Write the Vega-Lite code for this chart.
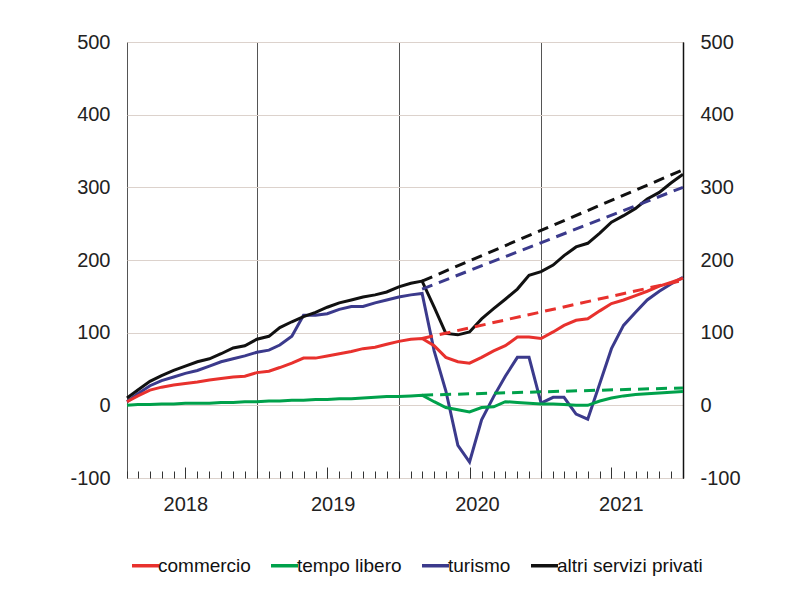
{
"$schema":"https://vega.github.io/schema/vega-lite/v6.json",
"width":556,"height":436,
"autosize":{"type":"none"},
"padding":{"left":127,"top":42,"right":104,"bottom":120},
"background":"white",
"config":{"font":"Liberation Sans","view":{"stroke":"#555","strokeWidth":1},"axis":{"labelFont":"Liberation Sans","labelFontSize":20,"labelColor":"#222","title":null}},
"data":{"values":[
{"data":"2018-02-01","serie":"turismo","valore":5,"tipo":"effettivo"},
{"data":"2018-03-01","serie":"turismo","valore":16,"tipo":"effettivo"},
{"data":"2018-04-01","serie":"turismo","valore":27,"tipo":"effettivo"},
{"data":"2018-05-01","serie":"turismo","valore":34,"tipo":"effettivo"},
{"data":"2018-06-01","serie":"turismo","valore":39,"tipo":"effettivo"},
{"data":"2018-07-01","serie":"turismo","valore":44,"tipo":"effettivo"},
{"data":"2018-08-01","serie":"turismo","valore":48,"tipo":"effettivo"},
{"data":"2018-09-01","serie":"turismo","valore":54,"tipo":"effettivo"},
{"data":"2018-10-01","serie":"turismo","valore":60,"tipo":"effettivo"},
{"data":"2018-11-01","serie":"turismo","valore":64,"tipo":"effettivo"},
{"data":"2018-12-01","serie":"turismo","valore":68,"tipo":"effettivo"},
{"data":"2019-01-01","serie":"turismo","valore":73,"tipo":"effettivo"},
{"data":"2019-02-01","serie":"turismo","valore":76,"tipo":"effettivo"},
{"data":"2019-03-01","serie":"turismo","valore":83,"tipo":"effettivo"},
{"data":"2019-04-01","serie":"turismo","valore":95,"tipo":"effettivo"},
{"data":"2019-05-01","serie":"turismo","valore":124,"tipo":"effettivo"},
{"data":"2019-06-01","serie":"turismo","valore":124,"tipo":"effettivo"},
{"data":"2019-07-01","serie":"turismo","valore":126,"tipo":"effettivo"},
{"data":"2019-08-01","serie":"turismo","valore":132,"tipo":"effettivo"},
{"data":"2019-09-01","serie":"turismo","valore":136,"tipo":"effettivo"},
{"data":"2019-10-01","serie":"turismo","valore":136,"tipo":"effettivo"},
{"data":"2019-11-01","serie":"turismo","valore":141,"tipo":"effettivo"},
{"data":"2019-12-01","serie":"turismo","valore":145,"tipo":"effettivo"},
{"data":"2020-01-01","serie":"turismo","valore":149,"tipo":"effettivo"},
{"data":"2020-02-01","serie":"turismo","valore":152,"tipo":"effettivo"},
{"data":"2020-03-01","serie":"turismo","valore":154,"tipo":"effettivo"},
{"data":"2020-04-01","serie":"turismo","valore":75,"tipo":"effettivo"},
{"data":"2020-05-01","serie":"turismo","valore":20,"tipo":"effettivo"},
{"data":"2020-06-01","serie":"turismo","valore":-55,"tipo":"effettivo"},
{"data":"2020-07-01","serie":"turismo","valore":-78,"tipo":"effettivo"},
{"data":"2020-08-01","serie":"turismo","valore":-20,"tipo":"effettivo"},
{"data":"2020-09-01","serie":"turismo","valore":12,"tipo":"effettivo"},
{"data":"2020-10-01","serie":"turismo","valore":40,"tipo":"effettivo"},
{"data":"2020-11-01","serie":"turismo","valore":66,"tipo":"effettivo"},
{"data":"2020-12-01","serie":"turismo","valore":66,"tipo":"effettivo"},
{"data":"2021-01-01","serie":"turismo","valore":3,"tipo":"effettivo"},
{"data":"2021-02-01","serie":"turismo","valore":11,"tipo":"effettivo"},
{"data":"2021-03-01","serie":"turismo","valore":11,"tipo":"effettivo"},
{"data":"2021-04-01","serie":"turismo","valore":-12,"tipo":"effettivo"},
{"data":"2021-05-01","serie":"turismo","valore":-19,"tipo":"effettivo"},
{"data":"2021-06-01","serie":"turismo","valore":30,"tipo":"effettivo"},
{"data":"2021-07-01","serie":"turismo","valore":78,"tipo":"effettivo"},
{"data":"2021-08-01","serie":"turismo","valore":110,"tipo":"effettivo"},
{"data":"2021-09-01","serie":"turismo","valore":128,"tipo":"effettivo"},
{"data":"2021-10-01","serie":"turismo","valore":145,"tipo":"effettivo"},
{"data":"2021-11-01","serie":"turismo","valore":157,"tipo":"effettivo"},
{"data":"2021-12-01","serie":"turismo","valore":167,"tipo":"effettivo"},
{"data":"2022-01-01","serie":"turismo","valore":176,"tipo":"effettivo"},
{"data":"2018-02-01","serie":"tempo libero","valore":0,"tipo":"effettivo"},
{"data":"2018-03-01","serie":"tempo libero","valore":1,"tipo":"effettivo"},
{"data":"2018-04-01","serie":"tempo libero","valore":1,"tipo":"effettivo"},
{"data":"2018-05-01","serie":"tempo libero","valore":2,"tipo":"effettivo"},
{"data":"2018-06-01","serie":"tempo libero","valore":2,"tipo":"effettivo"},
{"data":"2018-07-01","serie":"tempo libero","valore":3,"tipo":"effettivo"},
{"data":"2018-08-01","serie":"tempo libero","valore":3,"tipo":"effettivo"},
{"data":"2018-09-01","serie":"tempo libero","valore":3,"tipo":"effettivo"},
{"data":"2018-10-01","serie":"tempo libero","valore":4,"tipo":"effettivo"},
{"data":"2018-11-01","serie":"tempo libero","valore":4,"tipo":"effettivo"},
{"data":"2018-12-01","serie":"tempo libero","valore":5,"tipo":"effettivo"},
{"data":"2019-01-01","serie":"tempo libero","valore":5,"tipo":"effettivo"},
{"data":"2019-02-01","serie":"tempo libero","valore":6,"tipo":"effettivo"},
{"data":"2019-03-01","serie":"tempo libero","valore":6,"tipo":"effettivo"},
{"data":"2019-04-01","serie":"tempo libero","valore":7,"tipo":"effettivo"},
{"data":"2019-05-01","serie":"tempo libero","valore":7,"tipo":"effettivo"},
{"data":"2019-06-01","serie":"tempo libero","valore":8,"tipo":"effettivo"},
{"data":"2019-07-01","serie":"tempo libero","valore":8,"tipo":"effettivo"},
{"data":"2019-08-01","serie":"tempo libero","valore":9,"tipo":"effettivo"},
{"data":"2019-09-01","serie":"tempo libero","valore":9,"tipo":"effettivo"},
{"data":"2019-10-01","serie":"tempo libero","valore":10,"tipo":"effettivo"},
{"data":"2019-11-01","serie":"tempo libero","valore":11,"tipo":"effettivo"},
{"data":"2019-12-01","serie":"tempo libero","valore":12,"tipo":"effettivo"},
{"data":"2020-01-01","serie":"tempo libero","valore":12,"tipo":"effettivo"},
{"data":"2020-02-01","serie":"tempo libero","valore":13,"tipo":"effettivo"},
{"data":"2020-03-01","serie":"tempo libero","valore":14,"tipo":"effettivo"},
{"data":"2020-04-01","serie":"tempo libero","valore":5,"tipo":"effettivo"},
{"data":"2020-05-01","serie":"tempo libero","valore":-3,"tipo":"effettivo"},
{"data":"2020-06-01","serie":"tempo libero","valore":-6,"tipo":"effettivo"},
{"data":"2020-07-01","serie":"tempo libero","valore":-9,"tipo":"effettivo"},
{"data":"2020-08-01","serie":"tempo libero","valore":-3,"tipo":"effettivo"},
{"data":"2020-09-01","serie":"tempo libero","valore":-2,"tipo":"effettivo"},
{"data":"2020-10-01","serie":"tempo libero","valore":5,"tipo":"effettivo"},
{"data":"2020-11-01","serie":"tempo libero","valore":4,"tipo":"effettivo"},
{"data":"2020-12-01","serie":"tempo libero","valore":3,"tipo":"effettivo"},
{"data":"2021-01-01","serie":"tempo libero","valore":2,"tipo":"effettivo"},
{"data":"2021-02-01","serie":"tempo libero","valore":2,"tipo":"effettivo"},
{"data":"2021-03-01","serie":"tempo libero","valore":1,"tipo":"effettivo"},
{"data":"2021-04-01","serie":"tempo libero","valore":0,"tipo":"effettivo"},
{"data":"2021-05-01","serie":"tempo libero","valore":0,"tipo":"effettivo"},
{"data":"2021-06-01","serie":"tempo libero","valore":6,"tipo":"effettivo"},
{"data":"2021-07-01","serie":"tempo libero","valore":10,"tipo":"effettivo"},
{"data":"2021-08-01","serie":"tempo libero","valore":13,"tipo":"effettivo"},
{"data":"2021-09-01","serie":"tempo libero","valore":15,"tipo":"effettivo"},
{"data":"2021-10-01","serie":"tempo libero","valore":16,"tipo":"effettivo"},
{"data":"2021-11-01","serie":"tempo libero","valore":17,"tipo":"effettivo"},
{"data":"2021-12-01","serie":"tempo libero","valore":18,"tipo":"effettivo"},
{"data":"2022-01-01","serie":"tempo libero","valore":19,"tipo":"effettivo"},
{"data":"2018-02-01","serie":"commercio","valore":5,"tipo":"effettivo"},
{"data":"2018-03-01","serie":"commercio","valore":13,"tipo":"effettivo"},
{"data":"2018-04-01","serie":"commercio","valore":21,"tipo":"effettivo"},
{"data":"2018-05-01","serie":"commercio","valore":25,"tipo":"effettivo"},
{"data":"2018-06-01","serie":"commercio","valore":28,"tipo":"effettivo"},
{"data":"2018-07-01","serie":"commercio","valore":30,"tipo":"effettivo"},
{"data":"2018-08-01","serie":"commercio","valore":32,"tipo":"effettivo"},
{"data":"2018-09-01","serie":"commercio","valore":35,"tipo":"effettivo"},
{"data":"2018-10-01","serie":"commercio","valore":37,"tipo":"effettivo"},
{"data":"2018-11-01","serie":"commercio","valore":39,"tipo":"effettivo"},
{"data":"2018-12-01","serie":"commercio","valore":40,"tipo":"effettivo"},
{"data":"2019-01-01","serie":"commercio","valore":45,"tipo":"effettivo"},
{"data":"2019-02-01","serie":"commercio","valore":47,"tipo":"effettivo"},
{"data":"2019-03-01","serie":"commercio","valore":52,"tipo":"effettivo"},
{"data":"2019-04-01","serie":"commercio","valore":58,"tipo":"effettivo"},
{"data":"2019-05-01","serie":"commercio","valore":65,"tipo":"effettivo"},
{"data":"2019-06-01","serie":"commercio","valore":65,"tipo":"effettivo"},
{"data":"2019-07-01","serie":"commercio","valore":68,"tipo":"effettivo"},
{"data":"2019-08-01","serie":"commercio","valore":71,"tipo":"effettivo"},
{"data":"2019-09-01","serie":"commercio","valore":74,"tipo":"effettivo"},
{"data":"2019-10-01","serie":"commercio","valore":78,"tipo":"effettivo"},
{"data":"2019-11-01","serie":"commercio","valore":80,"tipo":"effettivo"},
{"data":"2019-12-01","serie":"commercio","valore":84,"tipo":"effettivo"},
{"data":"2020-01-01","serie":"commercio","valore":88,"tipo":"effettivo"},
{"data":"2020-02-01","serie":"commercio","valore":91,"tipo":"effettivo"},
{"data":"2020-03-01","serie":"commercio","valore":92,"tipo":"effettivo"},
{"data":"2020-04-01","serie":"commercio","valore":82,"tipo":"effettivo"},
{"data":"2020-05-01","serie":"commercio","valore":66,"tipo":"effettivo"},
{"data":"2020-06-01","serie":"commercio","valore":60,"tipo":"effettivo"},
{"data":"2020-07-01","serie":"commercio","valore":58,"tipo":"effettivo"},
{"data":"2020-08-01","serie":"commercio","valore":66,"tipo":"effettivo"},
{"data":"2020-09-01","serie":"commercio","valore":75,"tipo":"effettivo"},
{"data":"2020-10-01","serie":"commercio","valore":82,"tipo":"effettivo"},
{"data":"2020-11-01","serie":"commercio","valore":94,"tipo":"effettivo"},
{"data":"2020-12-01","serie":"commercio","valore":94,"tipo":"effettivo"},
{"data":"2021-01-01","serie":"commercio","valore":92,"tipo":"effettivo"},
{"data":"2021-02-01","serie":"commercio","valore":101,"tipo":"effettivo"},
{"data":"2021-03-01","serie":"commercio","valore":110,"tipo":"effettivo"},
{"data":"2021-04-01","serie":"commercio","valore":117,"tipo":"effettivo"},
{"data":"2021-05-01","serie":"commercio","valore":119,"tipo":"effettivo"},
{"data":"2021-06-01","serie":"commercio","valore":130,"tipo":"effettivo"},
{"data":"2021-07-01","serie":"commercio","valore":140,"tipo":"effettivo"},
{"data":"2021-08-01","serie":"commercio","valore":145,"tipo":"effettivo"},
{"data":"2021-09-01","serie":"commercio","valore":151,"tipo":"effettivo"},
{"data":"2021-10-01","serie":"commercio","valore":157,"tipo":"effettivo"},
{"data":"2021-11-01","serie":"commercio","valore":164,"tipo":"effettivo"},
{"data":"2021-12-01","serie":"commercio","valore":169,"tipo":"effettivo"},
{"data":"2022-01-01","serie":"commercio","valore":175,"tipo":"effettivo"},
{"data":"2018-02-01","serie":"altri servizi privati","valore":10,"tipo":"effettivo"},
{"data":"2018-03-01","serie":"altri servizi privati","valore":21,"tipo":"effettivo"},
{"data":"2018-04-01","serie":"altri servizi privati","valore":33,"tipo":"effettivo"},
{"data":"2018-05-01","serie":"altri servizi privati","valore":41,"tipo":"effettivo"},
{"data":"2018-06-01","serie":"altri servizi privati","valore":48,"tipo":"effettivo"},
{"data":"2018-07-01","serie":"altri servizi privati","valore":54,"tipo":"effettivo"},
{"data":"2018-08-01","serie":"altri servizi privati","valore":60,"tipo":"effettivo"},
{"data":"2018-09-01","serie":"altri servizi privati","valore":64,"tipo":"effettivo"},
{"data":"2018-10-01","serie":"altri servizi privati","valore":71,"tipo":"effettivo"},
{"data":"2018-11-01","serie":"altri servizi privati","valore":79,"tipo":"effettivo"},
{"data":"2018-12-01","serie":"altri servizi privati","valore":82,"tipo":"effettivo"},
{"data":"2019-01-01","serie":"altri servizi privati","valore":91,"tipo":"effettivo"},
{"data":"2019-02-01","serie":"altri servizi privati","valore":95,"tipo":"effettivo"},
{"data":"2019-03-01","serie":"altri servizi privati","valore":107,"tipo":"effettivo"},
{"data":"2019-04-01","serie":"altri servizi privati","valore":115,"tipo":"effettivo"},
{"data":"2019-05-01","serie":"altri servizi privati","valore":122,"tipo":"effettivo"},
{"data":"2019-06-01","serie":"altri servizi privati","valore":128,"tipo":"effettivo"},
{"data":"2019-07-01","serie":"altri servizi privati","valore":135,"tipo":"effettivo"},
{"data":"2019-08-01","serie":"altri servizi privati","valore":141,"tipo":"effettivo"},
{"data":"2019-09-01","serie":"altri servizi privati","valore":145,"tipo":"effettivo"},
{"data":"2019-10-01","serie":"altri servizi privati","valore":149,"tipo":"effettivo"},
{"data":"2019-11-01","serie":"altri servizi privati","valore":152,"tipo":"effettivo"},
{"data":"2019-12-01","serie":"altri servizi privati","valore":156,"tipo":"effettivo"},
{"data":"2020-01-01","serie":"altri servizi privati","valore":163,"tipo":"effettivo"},
{"data":"2020-02-01","serie":"altri servizi privati","valore":168,"tipo":"effettivo"},
{"data":"2020-03-01","serie":"altri servizi privati","valore":171,"tipo":"effettivo"},
{"data":"2020-04-01","serie":"altri servizi privati","valore":135,"tipo":"effettivo"},
{"data":"2020-05-01","serie":"altri servizi privati","valore":99,"tipo":"effettivo"},
{"data":"2020-06-01","serie":"altri servizi privati","valore":97,"tipo":"effettivo"},
{"data":"2020-07-01","serie":"altri servizi privati","valore":101,"tipo":"effettivo"},
{"data":"2020-08-01","serie":"altri servizi privati","valore":119,"tipo":"effettivo"},
{"data":"2020-09-01","serie":"altri servizi privati","valore":133,"tipo":"effettivo"},
{"data":"2020-10-01","serie":"altri servizi privati","valore":146,"tipo":"effettivo"},
{"data":"2020-11-01","serie":"altri servizi privati","valore":160,"tipo":"effettivo"},
{"data":"2020-12-01","serie":"altri servizi privati","valore":179,"tipo":"effettivo"},
{"data":"2021-01-01","serie":"altri servizi privati","valore":184,"tipo":"effettivo"},
{"data":"2021-02-01","serie":"altri servizi privati","valore":193,"tipo":"effettivo"},
{"data":"2021-03-01","serie":"altri servizi privati","valore":206,"tipo":"effettivo"},
{"data":"2021-04-01","serie":"altri servizi privati","valore":218,"tipo":"effettivo"},
{"data":"2021-05-01","serie":"altri servizi privati","valore":223,"tipo":"effettivo"},
{"data":"2021-06-01","serie":"altri servizi privati","valore":237,"tipo":"effettivo"},
{"data":"2021-07-01","serie":"altri servizi privati","valore":252,"tipo":"effettivo"},
{"data":"2021-08-01","serie":"altri servizi privati","valore":261,"tipo":"effettivo"},
{"data":"2021-09-01","serie":"altri servizi privati","valore":271,"tipo":"effettivo"},
{"data":"2021-10-01","serie":"altri servizi privati","valore":284,"tipo":"effettivo"},
{"data":"2021-11-01","serie":"altri servizi privati","valore":293,"tipo":"effettivo"},
{"data":"2021-12-01","serie":"altri servizi privati","valore":306,"tipo":"effettivo"},
{"data":"2022-01-01","serie":"altri servizi privati","valore":318,"tipo":"effettivo"},
{"data":"2020-03-01","serie":"turismo","valore":160,"tipo":"tendenziale"},
{"data":"2022-01-01","serie":"turismo","valore":300,"tipo":"tendenziale"},
{"data":"2020-03-01","serie":"tempo libero","valore":14,"tipo":"tendenziale"},
{"data":"2022-01-01","serie":"tempo libero","valore":24,"tipo":"tendenziale"},
{"data":"2020-03-01","serie":"commercio","valore":92,"tipo":"tendenziale"},
{"data":"2022-01-01","serie":"commercio","valore":172,"tipo":"tendenziale"},
{"data":"2020-03-01","serie":"altri servizi privati","valore":171,"tipo":"tendenziale"},
{"data":"2022-01-01","serie":"altri servizi privati","valore":324,"tipo":"tendenziale"}
]},
"layer":[
{"transform":[{"filter":"datum.tipo === 'effettivo'"}],
 "mark":{"type":"line","strokeWidth":3},
 "encoding":{
  "x":{"field":"data","type":"temporal","scale":{"type":"utc","domain":["2018-02-01","2022-01-01"]},"axis":{"orient":"bottom","tickCount":"year","grid":true,"gridColor":"#555","gridWidth":1,"labels":false,"ticks":false,"domain":false}},
  "y":{"field":"valore","type":"quantitative","scale":{"domain":[-100,500],"nice":false,"zero":false},"axis":{"orient":"left","values":[-100,0,100,200,300,400,500],"labelExpr":"'' + datum.value","grid":true,"gridColor":"#dcd2cc","gridWidth":1,"ticks":false,"domain":false,"labelPadding":17}},
  "color":{"field":"serie","type":"nominal","scale":{"domain":["commercio","tempo libero","turismo","altri servizi privati"],"range":["#e8312d","#00a14b","#3b3a8c","#111111"]},
   "legend":{"orient":"none","legendX":3,"legendY":508,"direction":"horizontal","title":null,"symbolType":"stroke","symbolSize":729,"symbolStrokeWidth":3.5,"labelFont":"Liberation Sans","labelFontSize":19,"labelColor":"#111","labelOffset":-3,"columnPadding":13,"labelLimit":300}}
 }},
{"transform":[{"filter":"datum.tipo === 'tendenziale'"}],
 "mark":{"type":"line","strokeWidth":3,"strokeDash":[11,7]},
 "encoding":{
  "x":{"field":"data","type":"temporal","axis":{"orient":"bottom","tickCount":"month","grid":false,"labels":false,"ticks":true,"tickSize":-7,"tickColor":"#333","tickWidth":1,"domain":false}},
  "y":{"field":"valore","type":"quantitative","axis":{"orient":"right","values":[-100,0,100,200,300,400,500],"labelExpr":"'' + datum.value","grid":false,"ticks":false,"domain":true,"domainColor":"#111","domainWidth":1.5,"labelPadding":17}},
  "color":{"field":"serie","type":"nominal","scale":{"domain":["commercio","tempo libero","turismo","altri servizi privati"],"range":["#e8312d","#00a14b","#3b3a8c","#111111"]},"legend":null}
 }},
{"transform":[{"filter":"datum.tipo === 'effettivo'"}],
 "mark":{"type":"line","opacity":0},
 "encoding":{
  "x":{"field":"data","type":"temporal","axis":{"orient":"bottom","values":[{"year":2018,"month":7,"date":1,"utc":true},{"year":2019,"month":7,"date":1,"utc":true},{"year":2020,"month":7,"date":1,"utc":true},{"year":2021,"month":7,"date":1,"utc":true}],"grid":false,"labels":false,"ticks":true,"tickSize":-11,"tickColor":"#333","tickWidth":1,"domain":false}},
  "y":{"field":"valore","type":"quantitative","axis":null}
 }},
{"transform":[{"filter":"datum.tipo === 'effettivo'"}],
 "mark":{"type":"line","opacity":0},
 "encoding":{
  "x":{"field":"data","type":"temporal","axis":{"orient":"bottom","values":[{"year":2018,"month":7,"date":1,"utc":true},{"year":2019,"month":7,"date":15,"utc":true},{"year":2020,"month":7,"date":20,"utc":true},{"year":2021,"month":7,"date":25,"utc":true}],"format":"%Y","grid":false,"labels":true,"ticks":false,"tickSize":0,"labelPadding":16,"domain":false}},
  "y":{"field":"valore","type":"quantitative","axis":null}
 }}
],
"resolve":{"axis":{"x":"independent","y":"independent"},"scale":{"color":"independent"}}
}
